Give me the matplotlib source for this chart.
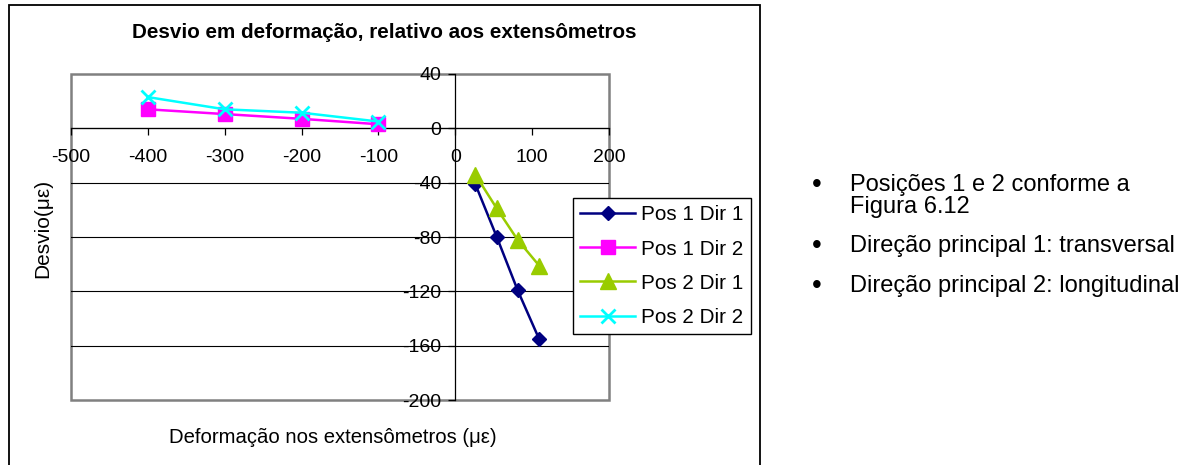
import matplotlib
matplotlib.use("Agg")
import matplotlib.pyplot as plt
from matplotlib.patches import Rectangle

plt.rcParams['font.family'] = ['Liberation Sans', 'DejaVu Sans']
plt.rcParams['axes.unicode_minus'] = False

# Strain readings (x) and deviation (y) for each position / principal direction
x_pos1_dir1 = [26, 54, 81, 109]
y_pos1_dir1 = [-41, -80, -119, -155]
x_pos1_dir2 = [-400, -300, -200, -100]
y_pos1_dir2 = [14, 10.5, 7, 3]
x_pos2_dir1 = [26, 54, 81, 109]
y_pos2_dir1 = [-34, -59, -82, -101]
x_pos2_dir2 = [-400, -300, -200, -100]
y_pos2_dir2 = [23, 14, 11.5, 5]

series_labels = ["Pos 1 Dir 1", "Pos 1 Dir 2", "Pos 2 Dir 1", "Pos 2 Dir 2"]
x_ticks = [-500, -400, -300, -200, -100, 0, 100, 200]
y_ticks = [-200, -160, -120, -80, -40, 0, 40]

title = "Desvio em deformação, relativo aos extensômetros"
xlabel = "Deformação nos extensômetros (με)"
ylabel = "Desvio(με)"
bullets = [
    ["Posições 1 e 2 conforme a", "Figura 6.12"],
    ["Direção principal 1: transversal"],
    ["Direção principal 2: longitudinal"],
]

W, H = 1188, 465
fig = plt.figure(figsize=(W / 100, H / 100), dpi=100)


def fx(px):
    return px / W


def fy(py):
    return 1 - py / H


ax = fig.add_axes([fx(71), fy(400), fx(609) - fx(71), fy(74) - fy(400)])
ax.set_xlim(-500, 200)
ax.set_ylim(-200, 40)

# gray plot-area border
ax.add_patch(Rectangle((0, 0), 1, 1, transform=ax.transAxes, fill=False,
                       edgecolor="#808080", linewidth=1.8, zorder=1, clip_on=False))

# horizontal gridlines
for yv in y_ticks[1:-1]:
    ax.axhline(yv, color="black", linewidth=0.8, zorder=1)

# axes crossing at zero
for side in ("top", "right"):
    ax.spines[side].set_visible(False)
ax.spines["left"].set_position(("data", 0))
ax.spines["bottom"].set_position(("data", 0))
for side in ("left", "bottom"):
    ax.spines[side].set_color("black")
    ax.spines[side].set_linewidth(0.9)
    ax.spines[side].set_zorder(2)

ax.set_xticks(x_ticks)
ax.set_yticks(y_ticks)
ax.set_xticklabels([str(v) for v in x_ticks])
ax.set_yticklabels([str(v) for v in y_ticks])
ax.tick_params(axis="both", direction="out", length=5, width=0.9, color="black",
               labelsize=14, labelcolor="black")
ax.tick_params(axis="x", pad=10)
ax.tick_params(axis="y", pad=5)

ax.plot(x_pos1_dir1, y_pos1_dir1, color="#000080", linewidth=1.8, marker="D",
        markersize=7.2, label=series_labels[0], zorder=3)
ax.plot(x_pos1_dir2, y_pos1_dir2, color="#FF00FF", linewidth=1.8, marker="s",
        markersize=9.5, label=series_labels[1], zorder=3)
ax.plot(x_pos2_dir1, y_pos2_dir1, color="#99CC00", linewidth=1.8, marker="^",
        markersize=11, label=series_labels[2], zorder=3)
ax.plot(x_pos2_dir2, y_pos2_dir2, color="#00FFFF", linewidth=1.8, marker="x",
        markersize=10.5, markeredgewidth=2.0, label=series_labels[3], zorder=3)

leg = ax.legend(loc="upper left", bbox_to_anchor=(fx(573), fy(198)),
                bbox_transform=fig.transFigure, borderaxespad=0, fontsize=14.9,
                fancybox=False, shadow=False, framealpha=1, edgecolor="black",
                handlelength=2.65, handletextpad=0.3, labelspacing=0.73,
                borderpad=0.36)
leg.get_frame().set_linewidth(1.0)
leg.set_zorder(5)

fig.text(fx(384), fy(32), title, fontsize=14.9, fontweight="bold",
         ha="center", va="center")
fig.text(fx(333), fy(437), xlabel, fontsize=14.6, ha="center", va="center")
fig.text(fx(43), fy(228), ylabel, fontsize=15, ha="center", va="center",
         rotation=90)

# outer chart frame
fig.add_artist(Rectangle((fx(9), -0.05), fx(760) - fx(9), fy(5) + 0.05,
                         transform=fig.transFigure, fill=False,
                         edgecolor="black", linewidth=1.3))

# bullet notes beside the chart
line_y = [[185, 207], [246], [286]]
for lines, ys in zip(bullets, line_y):
    fig.text(fx(817), fy(ys[0]), "•", fontsize=20, ha="center", va="center")
    for txt, yy in zip(lines, ys):
        fig.text(fx(850), fy(yy), txt, fontsize=17, ha="left", va="center")

fig.savefig("out.png", dpi=100)
